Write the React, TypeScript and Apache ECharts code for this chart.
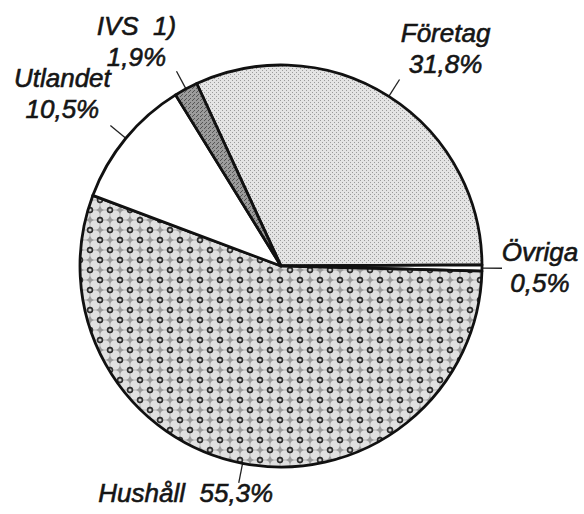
import React, { useEffect, useRef } from 'react';
import * as echarts from 'echarts';

// Data (share of total, %)
const categories = ['Företag', 'Övriga', 'Hushåll', 'Utlandet', 'IVS  1)'];
const shares = [31.8, 0.5, 55.3, 10.5, 1.9];

function makeTile(w: number, h: number, draw: (ctx: CanvasRenderingContext2D) => void) {
  const c = document.createElement('canvas');
  c.width = w;
  c.height = h;
  const ctx = c.getContext('2d') as CanvasRenderingContext2D;
  draw(ctx);
  return c;
}

function stipple(bg: string, dot: string, pts: number[][]) {
  return makeTile(4, 4, (ctx) => {
    ctx.fillStyle = bg;
    ctx.fillRect(0, 0, 4, 4);
    ctx.fillStyle = dot;
    pts.forEach(([x, y]) => ctx.fillRect(x, y, 1, 1));
  });
}

function hatchCircles() {
  return makeTile(20, 20, (ctx) => {
    ctx.fillStyle = '#9a9a9a';
    ctx.fillRect(0, 0, 20, 20);
    const circ = [[5, 5], [15, 5], [5, 15], [15, 15]];
    circ.forEach(([x, y]) => {
      ctx.beginPath();
      ctx.arc(x, y, 4.8, 0, Math.PI * 2);
      ctx.fillStyle = '#e0e0e0';
      ctx.fill();
    });
    const rings = [[0, 0], [20, 0], [0, 20], [20, 20], [10, 10]];
    rings.forEach(([x, y]) => {
      ctx.beginPath();
      ctx.arc(x, y, 2.4, 0, Math.PI * 2);
      ctx.fillStyle = '#d0d0d0';
      ctx.fill();
      ctx.lineWidth = 1.6;
      ctx.strokeStyle = '#2e2e2e';
      ctx.stroke();
    });
  });
}

export default function App() {
  const ref = useRef<HTMLDivElement>(null);

  useEffect(() => {
    if (!ref.current) return;
    document.body.style.background = '#fff';
    const chart = echarts.init(ref.current, undefined, { renderer: 'svg' });

    const fills: Record<string, any> = {
      'Företag': { image: stipple('#e4e4e4', '#9a9a9a', [[0, 0], [2, 2]]), repeat: 'repeat' },
      'Övriga': '#ffffff',
      'Hushåll': { image: hatchCircles(), repeat: 'repeat' },
      'Utlandet': '#ffffff',
      'IVS  1)': { image: stipple('#9c9c9c', '#555555', [[0, 0], [2, 2], [1, 3]]), repeat: 'repeat' },
    };

    // offset of each label block's centre from the end of its leader line
    const labelOffsets: Record<string, number[]> = {
      'Företag': [46, -31],
      'Övriga': [38, -1],
      'Hushåll': [-53, 10],
      'Utlandet': [-48, -32],
      'IVS  1)': [-40, -30],
    };

    const fmt = (v: number) => v.toFixed(1).replace('.', ',') + '%';

    const option: any = {
      animation: false,
      backgroundColor: '#ffffff',
      series: [
        {
          type: 'pie',
          center: [281, 266],
          radius: 201,
          startAngle: 114.8,
          clockwise: true,
          avoidLabelOverlap: false,
          silent: true,
          data: categories.map((name, i) => ({
            name,
            value: shares[i],
            itemStyle: { color: fills[name] },
          })),
          itemStyle: { borderColor: '#111', borderWidth: 2.8 },
          label: {
            show: true,
            position: 'outside',
            formatter: (p: any) =>
              p.name === 'Hushåll' ? `${p.name}  ${fmt(p.value)}` : `${p.name}\n${fmt(p.value)}`,
            fontFamily: '"Liberation Sans", Arial, sans-serif',
            fontStyle: 'italic',
            fontSize: 26,
            lineHeight: 31,
            color: '#151515',
            textBorderColor: '#151515',
            textBorderWidth: 0.6,
          },
          labelLine: {
            show: true,
            length: 20,
            length2: 0,
            smooth: false,
            lineStyle: { color: '#222', width: 1.3 },
          },
          labelLayout: (p: any) => {
            const name = categories[p.dataIndex];
            const off = labelOffsets[name] || [0, 0];
            const pts = p.labelLinePoints;
            if (!pts || !pts.length) return {};
            const end = pts[pts.length - 1];
            return {
              x: end[0] + off[0],
              y: end[1] + off[1],
              align: 'center',
              verticalAlign: 'middle',
              labelLinePoints: pts,
            };
          },
        },
      ],
    };

    chart.setOption(option);
    return () => chart.dispose();
  }, []);

  return (
    <div
      ref={ref}
      style={{ position: 'fixed', left: 0, top: 0, width: 584, height: 514, background: '#fff' }}
    />
  );
}
